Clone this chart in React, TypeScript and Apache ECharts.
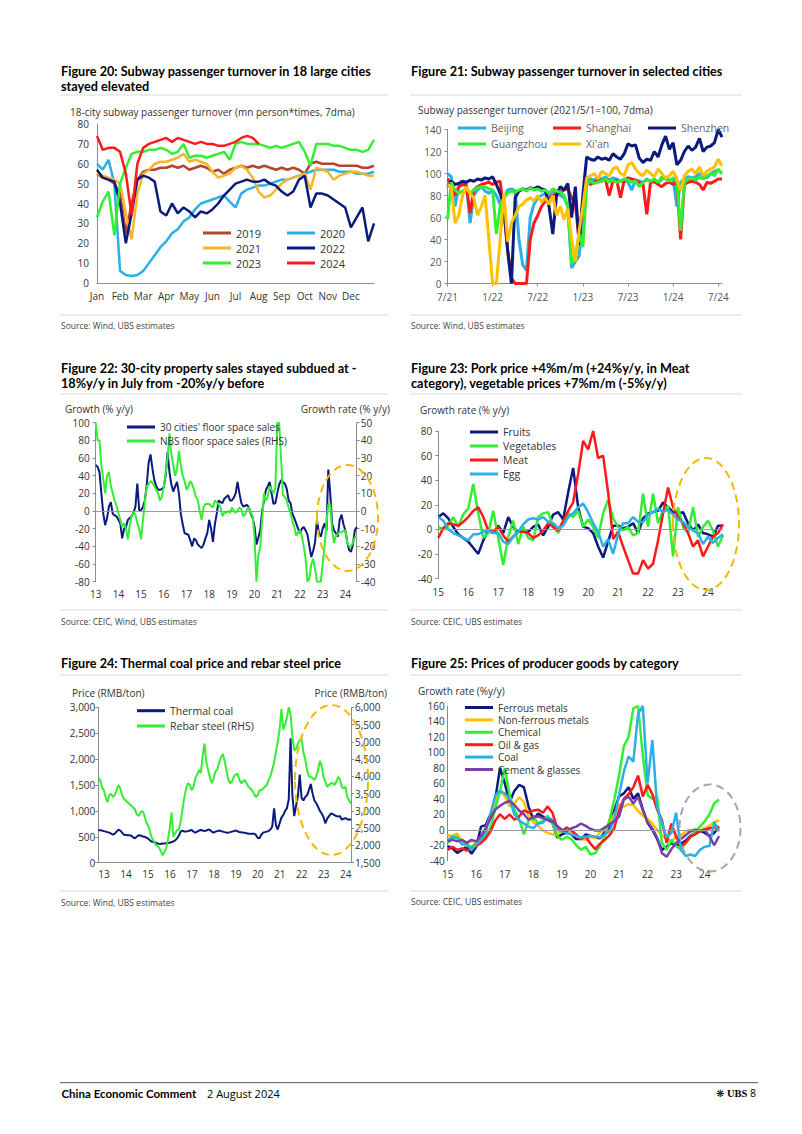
import React, { useEffect, useRef } from 'react';
import * as echarts from 'echarts';

const FONT = "'Open Sans', 'Noto Sans', sans-serif";
const BOLD = "Lato, 'Open Sans', sans-serif";

const NAVY = '#0b1a7e';
const GREEN = '#33ee33';
const RED = '#ff1a1a';
const LBLUE = '#2bb0e6';
const GOLD = '#ffc000';
const ORANGE = '#f7b52c';
const BROWN = '#b5452c';
const PURPLE = '#7b3fa8';
const AXIS = '#8c8c8c';

// ===== Figure 20: weekly points, Jan..Dec =====
const monthNames20 = ['Jan', 'Feb', 'Mar', 'Apr', 'May', 'Jun', 'Jul', 'Aug', 'Sep', 'Oct', 'Nov', 'Dec'];
const y2019 = [55, 53, 52, 50, 45, 25, 40, 52, 56, 57, 57, 58, 58, 59, 58, 59, 57, 58, 59, 58, 56, 57, 55, 57, 58, 59, 58, 59, 58, 59, 58, 57, 58, 57, 58, 57, 55, 60, 61, 60, 60, 60, 59, 59, 59, 59, 58, 58, 59];
const y2020 = [60, 57, 62, 50, 6, 4, 3.5, 4, 6, 10, 14, 18, 21, 25, 27, 31, 33, 37, 40, 41, 42, 43, 44, 41, 38, 45, 47, 48, 49, 49, 50, 51, 52, 52, 53, 54, 55, 56, 57, 57, 57, 57, 56, 56, 56, 55, 55, 55, 56];
const y2021 = [55, 54, 53, 52, 50, 35, 22, 45, 55, 57, 60, 61, 61, 62, 63, 65, 61, 62, 61, 60, 56, 53, 54, 55, 58, 59, 57, 53, 46, 43, 44, 47, 50, 52, 53, 54, 55, 47, 58, 57, 56, 52, 54, 55, 56, 56, 55, 54, 54];
const y2022 = [57, 53, 52, 51, 40, 20, 35, 52, 54, 53, 51, 36, 34, 40, 35, 38, 36, 33, 36, 35, 37, 40, 44, 47, 50, 51, 52, 51, 51, 52, 50, 49, 46, 44, 46, 52, 54, 38, 45, 45, 44, 42, 40, 38, 28, 33, 38, 21, 30];
const y2023 = [33, 41, 46, 24, 50, 58, 65, 66, 66, 67, 67, 68, 67, 65, 66, 70, 63, 64, 64, 63, 64, 65, 66, 62, 70, 71, 70, 70, 70, 69, 68, 69, 68, 69, 70, 71, 66, 59, 70, 70, 70, 69, 69, 68, 67, 67, 66, 67, 72];
const y2024 = [74, 67, 68, 68, 66, 55, 34, 60, 68, 70, 71, 72, 73, 71, 73, 72, 71, 70, 71, 70, 70, 69, 69, 70, 71, 73, 74, 73, 70];
const weeks20 = Array.from({ length: 49 }, (_, i) => (i < 48 ? `${monthNames20[Math.floor(i / 4)]} w${(i % 4) + 1}` : 'Dec end'));

// ===== Figure 21: semi-monthly points from Jul 2021 =====
const beijing = [100, 97, 70, 88, 90, 91, 55, 80, 85, 88, 84, 82, 85, 80, 72, 78, 85, 86, 84, 40, 17, 12, 60, 72, 78, 80, 82, 80, 84, 82, 80, 78, 70, 14, 20, 25, 60, 92, 95, 94, 96, 95, 97, 94, 96, 95, 93, 94, 92, 85, 94, 93, 92, 95, 93, 92, 91, 95, 96, 94, 95, 70, 92, 95, 97, 96, 97, 100, 98, 96, 100, 102, 103, 100];
const shanghai = [95, 92, 80, 88, 90, 89, 64, 85, 88, 90, 91, 92, 90, 92, 93, 65, 30, 5, 0, 0, 0, 0, 40, 55, 62, 70, 75, 78, 80, 82, 83, 85, 86, 78, 72, 40, 75, 93, 90, 92, 94, 93, 95, 80, 93, 94, 78, 94, 96, 95, 94, 92, 90, 63, 92, 93, 90, 88, 91, 92, 90, 92, 40, 90, 92, 93, 92, 90, 85, 92, 91, 93, 95, 95];
const shenzhen = [88, 93, 90, 91, 93, 92, 94, 93, 95, 94, 96, 95, 97, 90, 82, 70, 30, 0, 78, 84, 86, 85, 87, 86, 88, 86, 85, 70, 45, 80, 88, 85, 91, 60, 88, 35, 80, 115, 113, 112, 115, 113, 114, 112, 118, 115, 113, 118, 127, 125, 126, 114, 110, 113, 112, 120, 115, 126, 134, 122, 128, 108, 112, 120, 125, 121, 124, 132, 120, 124, 125, 128, 140, 133];
const guangzhou = [58, 92, 85, 82, 84, 86, 82, 85, 87, 88, 88, 86, 85, 45, 70, 78, 82, 84, 83, 85, 86, 84, 87, 85, 86, 84, 85, 82, 86, 84, 83, 80, 70, 18, 25, 45, 33, 90, 93, 91, 92, 93, 95, 92, 94, 92, 93, 95, 94, 92, 93, 88, 92, 94, 93, 95, 92, 97, 95, 93, 96, 94, 48, 92, 95, 96, 94, 97, 95, 98, 100, 98, 104, 100];
const xian = [90, 88, 55, 62, 80, 88, 82, 78, 62, 70, 80, 40, 0, 0, 40, 82, 38, 55, 62, 70, 72, 76, 78, 75, 80, 74, 78, 72, 80, 62, 70, 58, 68, 40, 20, 48, 70, 96, 98, 100, 95, 102, 100, 98, 104, 106, 100, 98, 108, 110, 104, 100, 98, 103, 100, 97, 104, 100, 96, 98, 102, 95, 85, 98, 102, 104, 100, 106, 98, 102, 104, 106, 113, 107];
const halfMonths21 = Array.from({ length: 74 }, (_, i) => {
  const m = 6 + Math.floor(i / 2);
  return `${(m % 12) + 1}/${21 + Math.floor(m / 12)} ${i % 2 ? 'b' : 'a'}`;
});

// ===== Figure 22: monthly Jan 2013 - Jul 2024 =====
const cities30 = [
  52, 50, 44, 20, -3, -16, -8, 5, 10, -3, -5, -6,
  -10, -14, -31, -20, -18, -10, -8, -6, -2, 5, 31, 1,
  1, 5, 12, 30, 55, 64, 48, 35, 28, 24, 24, 25,
  27, 40, 67, 44, 30, 22, 28, 33, 20, -3, -15, -25,
  -26, -27, -33, -40, -31, -33, -38, -40, -42, -38, -31, -25,
  -10, -20, -35, -15, -3, 12, 10, 9, 14, 16, 18, 12,
  12, 15, 20, 33, 20, 9, 5, 6, 7, 4, -3, -8,
  -18, -38, -30, -22, 0, 12, 24, 28, 33, 20, 8, 9,
  20, 30, 35, 33, 31, 25, 12, 9, -3, -8, -14, -20,
  -25, -20, -18, -22, -27, -40, -52, -45, -35, -10, -25, -29,
  -20, -14, -22, 47, 20, -14, -22, -25, -29, -10, -4, -15,
  -22, -35, -44, -46, -38, -22, -18,
];
const nbsSales = [
  50, 40, 40, 26, 18, 10, 20, 22, 14, 10, 6, 3,
  -1, -5, -9, -7, -10, -16, -8, -3, -1, -2, -7, -10,
  -16, -5, 5, 14, 15, 17, 16, 14, 12, 10, 6, 8,
  14, 22, 30, 44, 32, 26, 20, 24, 34, 26, 20, 17,
  12, 14, 17, 15, 12, 8, 6, 0, -5, 2, 4, 4,
  4, 3, 2, 6, 5, 4, 2, -3, -1, -1, 0, -1,
  2, 0, -1, 0, 2, 1, -3, -2, 1, 2, -1, -3,
  -15, -40, -25, -20, -5, 10, 6, 8, 14, 12, 10, 13,
  50, 50, 30, 9, 8, 6, 2, -1, -6, -9, -14, -12,
  -11, -14, -20, -27, -40, -38, -30, -27, -33, -40, -40, -40,
  -30, -20, -7, 4, 4, -11, -18, -14, -13, -12, -12, -11,
  -11, -18, -20, -20, -18, -15, -14,
];
const monthly1324 = Array.from({ length: 139 }, (_, i) => `${13 + Math.floor(i / 12)}-${String((i % 12) + 1).padStart(2, '0')}`);

// ===== Figure 23: bi-monthly Jan 2015 - Jul 2024 =====
const fruits = [10, 13, 9, 2, -4, -7, -10, -15, -20, -9, -1, -3, 3, -3, 10, 2, -2, -2, -2, 2, 4, -5, 2, 12, 14, 8, 30, 50, 18, 2, 1, -3, -14, -23, -10, 3, 3, 1, 2, 5, -3, 9, 13, 14, 15, 22, 18, 14, 13, 14, 5, -1, 4, -3, -4, -6, 3, 3];
const vegetables = [2, 0, 3, 10, 2, 12, 17, 37, 13, -7, -3, 15, -7, -29, -6, 7, -12, 2, -7, -9, 10, 13, 14, 2, -3, 5, 13, 10, 15, 2, 8, 2, -7, 13, 24, 9, 2, -1, 2, -5, -3, 29, 2, 29, 5, 15, 19, -22, 18, 2, -3, 18, -6, 2, 7, -1, -14, -5];
const meat = [-7, 1, 5, 4, 3, 6, 10, 15, 18, 10, -1, -2, 2, -5, -10, -6, -2, -2, -3, -7, -5, -1, 5, 2, -1, 7, 15, 22, 45, 72, 65, 80, 58, 60, 30, -8, -2, -14, -25, -36, -36, -25, -32, -28, -9, 13, 34, 18, 10, 5, -3, -14, -9, -22, -14, -6, -3, 4];
const egg = [10, 7, 0, -3, -5, -7, -9, -4, -4, -2, -1, -3, -3, -10, -12, -6, -2, 4, 8, 9, 8, 10, 6, 5, 1, 3, 10, 13, 18, 21, 14, 5, -2, -14, -8, -20, -4, 5, 5, 10, 6, 6, 12, 14, 17, 14, 16, 12, 8, 6, 2, -1, -3, -12, -6, -11, -7, -4];
const bimonthly1524 = Array.from({ length: 58 }, (_, i) => {
  const m = i * 2;
  return `${15 + Math.floor(m / 12)}-${String((m % 12) + 1).padStart(2, '0')}`;
});

// ===== Figure 24: monthly Jan 2013 - Jul 2024 =====
const thermalCoal = [
  630, 625, 620, 610, 600, 590, 580, 560, 540, 560, 600, 640,
  620, 580, 540, 535, 530, 530, 520, 490, 470, 500, 530, 525,
  510, 500, 490, 470, 440, 410, 400, 390, 375, 365, 360, 370,
  370, 375, 380, 385, 400, 410, 430, 470, 520, 600, 620, 600,
  600, 610, 620, 630, 600, 580, 600, 620, 630, 620, 610, 620,
  640, 630, 600, 580, 600, 610, 620, 610, 600, 590, 580, 580,
  590, 600, 610, 620, 610, 590, 590, 580, 580, 570, 560, 560,
  560, 560, 540, 480, 470, 540, 580, 590, 600, 610, 640, 700,
  1050, 720, 640, 760, 870, 920, 1000, 1050, 1220, 2400, 1300, 900,
  1100, 1280, 1700, 1250, 1200, 1270, 1300, 1400, 1520, 1340, 1200, 1150,
  1080, 1000, 950, 880, 760, 850, 900, 950, 940, 920, 900, 890,
  900, 830, 850, 860, 840, 830, 840,
];
const rebarSteel = [
  3950, 3900, 3700, 3600, 3400, 3250, 3450, 3500, 3400, 3450, 3600, 3750,
  3650, 3450, 3350, 3300, 3250, 3200, 3150, 3100, 3050, 2900, 2850, 2950,
  3000, 2900, 2700, 2600, 2450, 2250, 2150, 2050, 2000, 1950, 1850, 1720,
  1800, 1900, 2150, 2500, 2950, 2250, 2350, 2450, 2450, 2700, 3050, 3400,
  3650, 3800, 3750, 3600, 3700, 3950, 4050, 4180, 4100, 4600, 4950, 4400,
  4180, 3950, 3800, 3950, 4150, 4200, 4400, 4550, 4650, 4450, 4180, 3900,
  3800, 3850, 3990, 4050, 4080, 3900, 3800, 3850, 3890, 3800, 3700, 3650,
  3600, 3500, 3400, 3450, 3600, 3600, 3650, 3700, 3750, 3890, 4000, 4200,
  4400, 4700, 5000, 5350, 5950, 5350, 5500, 5700, 6000, 5800, 5150, 4750,
  4800, 4950, 5050, 5100, 4700, 4500, 4180, 4000, 3990, 3950, 3890, 4000,
  4180, 4450, 4300, 3990, 3850, 3700, 3750, 3800, 3800, 3750, 3850, 3990,
  3900, 3700, 3650, 3700, 3400, 3300, 3200,
];

// ===== Figure 25: bi-monthly Jan 2015 - Jul 2024 =====
const ferrous = [-21, -24, -30, -26, -22, -31, -22, 4, 6, 20, 40, 80, 60, 36, 50, 58, 55, 30, 13, 21, 17, 13, 9, -10, -6, -4, -6, -12, -12, -6, -8, -10, -11, -3, 4, 25, 43, 47, 55, 40, 47, 26, 9, 0, -12, -26, -22, -17, -21, -18, -14, -8, -3, -1, -4, -8, -4, 4];
const nonFerrous = [-7, -8, -5, -14, -17, -15, -15, -10, 2, 18, 38, 50, 44, 30, 34, 42, 36, 18, 10, 5, -1, -4, -6, -6, -2, -3, -4, -7, -12, -13, -9, -11, -3, 1, 8, 20, 33, 30, 33, 32, 24, 18, 14, 8, 0, -8, -11, -15, -9, -7, -2, 0, -1, 0, 2, 5, 10, 12];
const chemical = [-17, -11, -9, -17, -21, -22, -17, -15, -9, 3, 28, 50, 80, 45, 26, 14, -6, 12, 17, 8, 12, 18, 9, -8, -13, -9, -12, -20, -26, -22, -32, -30, -21, -8, 13, 39, 70, 108, 120, 157, 160, 95, 45, 40, 43, -17, -26, -13, -21, -26, -17, -9, -2, 4, 11, 20, 34, 39];
const oilGas = [-26, -22, -26, -24, -27, -24, -21, -17, -11, -2, 12, 20, 14, 20, 13, 17, 25, 22, 25, 26, 22, 30, 22, 2, -2, 3, -1, -6, -12, -9, -18, -25, -18, -13, -7, 2, 25, 40, 46, 55, 70, 43, 58, 46, 26, 13, -17, 8, -9, -21, -17, -9, -6, -2, 0, 2, 3, 4];
const coalPPI = [-13, -9, -11, -19, -17, -26, -19, -13, -3, 20, 45, 50, 47, 40, 20, 12, 8, 4, 2, 8, 9, 16, 13, 0, -2, -4, -6, -8, -10, -9, -8, -9, -10, -6, -2, 13, 45, 75, 95, 88, 150, 160, 60, 116, 30, 10, -10, -4, 22, -26, -34, -32, -34, -26, -22, -21, 10, -2];
const cementGlass = [-15, -13, -15, -13, -17, -13, -15, -8, 2, 15, 26, 31, 35, 37, 32, 25, 20, 13, 17, 17, 15, 13, 11, 5, 0, -2, 2, 4, 8, 5, 1, -1, -1, 3, 7, 11, 17, 39, 43, 34, 43, 25, 10, 2, -10, -30, -35, -25, -17, -12, -7, -2, 0, -2, 0, -9, -20, -8];

// ===== helpers =====
const line = (name: string, data: number[], color: string, xi: number, yi: number, width = 2) => ({
  name, type: 'line', data, xAxisIndex: xi, yAxisIndex: yi, symbol: 'none', showSymbol: false,
  color, lineStyle: { color, width }, itemStyle: { color }, silent: true, emphasis: { disabled: true },
});

const zeroLine = {
  silent: true, symbol: ['none', 'none'], label: { show: false },
  lineStyle: { color: '#9a9a9a', width: 1, type: 'solid' }, data: [{ yAxis: 0 }],
};

const catAxis = (gridIndex: number, data: string[], show: (i: number) => boolean, fmt: (v: string) => string, o: any = {}) => ({
  type: 'category', gridIndex, data, boundaryGap: false,
  axisLine: { show: o.line !== false, lineStyle: { color: AXIS } },
  axisTick: { show: !!o.tick, length: 3, interval: (i: number) => show(i), lineStyle: { color: AXIS } },
  axisLabel: {
    interval: (i: number) => show(i), formatter: (v: string) => fmt(v), fontSize: 10,
    color: o.color || '#333', fontFamily: FONT, margin: o.margin ?? 7, align: o.align || 'center',
  },
  splitLine: { show: false },
});

const valAxis = (gridIndex: number, min: number, max: number, interval: number, o: any = {}) => ({
  type: 'value', gridIndex, min, max, interval, position: o.position || 'left',
  splitLine: { show: false },
  axisLine: { show: true, lineStyle: { color: AXIS } },
  axisTick: { show: o.tick !== false, length: 3, lineStyle: { color: AXIS } },
  axisLabel: {
    fontSize: 10, color: o.color || '#333', fontFamily: FONT, margin: o.margin ?? 5,
    formatter: o.formatter,
  },
});

const legendCol = (left: number, top: number, data: string[], gap: number, lh = 14, fs = 10, color = '#333') => ({
  orient: 'vertical', left, top, padding: 0, itemGap: gap, itemWidth: 28, itemHeight: 3, icon: 'rect',
  selectedMode: false, data, textStyle: { fontSize: fs, color, fontFamily: FONT, lineHeight: lh },
});

const txt = (x: number, y: number, text: string, font: string, fill = '#000', align = 'left') => ({
  type: 'text', x, y, silent: true,
  style: { text, font, fill, align, textAlign: align, verticalAlign: 'middle', textVerticalAlign: 'middle' },
});
const hline = (x1: number, x2: number, y: number, stroke = '#d9d9d9', w = 1) => ({
  type: 'line', silent: true, shape: { x1, y1: y, x2, y2: y }, style: { stroke, lineWidth: w },
});
const ellipse = (cx: number, cy: number, rx: number, ry: number, stroke: string) => ({
  type: 'ellipse', silent: true, z: 100, shape: { cx, cy, rx, ry },
  style: { fill: 'none', stroke, lineWidth: 2, lineDash: [8, 5] },
});

const TITLE = `bold 12.7px ${BOLD}`;
const SUB = `10px ${FONT}`;
const SRC = `8.5px ${FONT}`;

const yearLabel = (v: string) => v.slice(0, 2);
const fmtThousands = (v: number) => v.toLocaleString('en-US');

const option: any = {
  animation: false,
  textStyle: { fontFamily: FONT },
  grid: [
    { left: 97, top: 124, width: 277, height: 159 },
    { left: 447.5, top: 129.5, width: 274.5, height: 154 },
    { left: 95.7, top: 422.7, width: 261, height: 159 },
    { left: 438.3, top: 431, width: 284.7, height: 147.5 },
    { left: 98.3, top: 707.3, width: 252.7, height: 155.4 },
    { left: 447.7, top: 706, width: 271.3, height: 154.7 },
  ],
  xAxis: [
    catAxis(0, weeks20, (i) => i % 4 === 0 && i < 48, (v) => v.split(' ')[0], { margin: 8 }),
    catAxis(1, halfMonths21, (i) => i % 12 === 0, (v) => v.split(' ')[0], { tick: true, color: '#555', margin: 8 }),
    catAxis(2, monthly1324, (i) => i % 12 === 0, yearLabel, { line: false, margin: 7 }),
    catAxis(3, bimonthly1524, (i) => i % 6 === 0, yearLabel, { line: false, margin: 8 }),
    catAxis(4, monthly1324, (i) => i % 12 === 0, yearLabel, { align: 'left', margin: 6 }),
    catAxis(5, bimonthly1524, (i) => i % 6 === 0, yearLabel, { line: false, margin: 8 }),
  ],
  yAxis: [
    valAxis(0, 0, 80, 10, { tick: false, margin: 8 }),
    valAxis(1, 0, 140, 20, { color: '#555', margin: 6 }),
    valAxis(2, -80, 100, 20, { margin: 6 }),
    valAxis(2, -40, 50, 10, { position: 'right', margin: 4 }),
    valAxis(3, -40, 80, 20, { margin: 6 }),
    valAxis(4, 0, 3000, 500, { formatter: fmtThousands, margin: 3 }),
    valAxis(4, 1500, 6000, 500, { position: 'right', formatter: fmtThousands, margin: 4 }),
    valAxis(5, -40, 160, 20, { tick: false, margin: 3 }),
  ],
  legend: [
    legendCol(203, 226, ['2019', '2021', '2023'], 1, 14, 11),
    legendCol(287, 226, ['2020', '2022', '2024'], 1, 14, 11),
    legendCol(458, 121, ['Beijing', 'Guangzhou'], 2, 14, 10.5, '#666'),
    legendCol(553, 121, ['Shanghai', "Xi'an"], 2, 14, 10.5, '#666'),
    legendCol(648, 121, ['Shenzhen'], 2, 14, 10.5, '#666'),
    legendCol(127, 420, ["30 cities' floor space sales", 'NBS floor space sales (RHS)'], 0, 14, 10),
    legendCol(470, 425, ['Fruits', 'Vegetables', 'Meat', 'Egg'], 0, 14, 10.5),
    legendCol(137, 703.7, ['Thermal coal', 'Rebar steel (RHS)'], 1.3, 14, 10.5),
    legendCol(465, 701.5, ['Ferrous metals', 'Non-ferrous metals', 'Chemical', 'Oil & gas', 'Coal', 'Cement & glasses'], 0.4, 12, 10),
  ],
  series: [
    line('2019', y2019, BROWN, 0, 0, 2.5),
    line('2020', y2020, LBLUE, 0, 0, 2.5),
    line('2021', y2021, ORANGE, 0, 0, 2.5),
    line('2022', y2022, NAVY, 0, 0, 2.5),
    line('2023', y2023, GREEN, 0, 0, 2.5),
    line('2024', y2024, RED, 0, 0, 2.5),

    line('Beijing', beijing, LBLUE, 1, 1, 3),
    line('Shanghai', shanghai, RED, 1, 1, 3),
    line('Shenzhen', shenzhen, NAVY, 1, 1, 3),
    line('Guangzhou', guangzhou, GREEN, 1, 1, 3),
    line("Xi'an", xian, GOLD, 1, 1, 3),

    { ...line("30 cities' floor space sales", cities30, NAVY, 2, 2, 2), markLine: zeroLine },
    line('NBS floor space sales (RHS)', nbsSales, GREEN, 2, 3, 2),

    { ...line('Fruits', fruits, NAVY, 3, 4, 2.5), markLine: zeroLine },
    line('Vegetables', vegetables, GREEN, 3, 4, 2.5),
    line('Meat', meat, RED, 3, 4, 2.5),
    line('Egg', egg, LBLUE, 3, 4, 2.5),

    line('Thermal coal', thermalCoal, NAVY, 4, 5, 2),
    line('Rebar steel (RHS)', rebarSteel, GREEN, 4, 6, 2),

    { ...line('Ferrous metals', ferrous, NAVY, 5, 7, 2.5), markLine: zeroLine },
    line('Non-ferrous metals', nonFerrous, GOLD, 5, 7, 2.5),
    line('Chemical', chemical, GREEN, 5, 7, 2.5),
    line('Oil & gas', oilGas, RED, 5, 7, 2.5),
    line('Coal', coalPPI, LBLUE, 5, 7, 2.5),
    line('Cement & glasses', cementGlass, PURPLE, 5, 7, 2.5),
  ],
  graphic: {
    elements: [
      // titles
      txt(61, 70.5, 'Figure 20: Subway passenger turnover in 18 large cities', TITLE),
      txt(61, 85.5, 'stayed elevated', TITLE),
      txt(411, 70.5, 'Figure 21: Subway passenger turnover in selected cities', TITLE),
      txt(61, 367.5, 'Figure 22: 30-city property sales stayed subdued at -', TITLE),
      txt(61, 382.5, '18%y/y in July from -20%y/y before', TITLE),
      txt(411, 367.5, 'Figure 23: Pork price +4%m/m (+24%y/y, in Meat', TITLE),
      txt(411, 382.5, 'category), vegetable prices +7%m/m (-5%y/y)', TITLE),
      txt(61, 663, 'Figure 24: Thermal coal price and rebar steel price', TITLE),
      txt(411, 663, 'Figure 25: Prices of producer goods by category', TITLE),
      // separators
      hline(60, 388, 95), hline(410, 742, 95),
      hline(60, 388, 315), hline(410, 742, 315),
      hline(60, 388, 394), hline(410, 742, 394),
      hline(60, 388, 610), hline(410, 742, 610),
      hline(60, 388, 675), hline(410, 742, 675),
      hline(60, 388, 891), hline(410, 742, 891),
      // axis titles
      txt(70, 111.5, '18-city subway passenger turnover (mn person*times, 7dma)', SUB, '#333'),
      txt(418, 110, 'Subway passenger turnover (2021/5/1=100, 7dma)', SUB, '#333'),
      txt(65, 409, 'Growth (% y/y)', SUB, '#333'),
      txt(390, 409, 'Growth rate (% y/y)', SUB, '#333', 'right'),
      txt(420, 410, 'Growth rate (% y/y)', SUB, '#333'),
      txt(72, 692.5, 'Price (RMB/ton)', SUB, '#333'),
      txt(387, 692.5, 'Price (RMB/ton)', SUB, '#333', 'right'),
      txt(418, 690.5, 'Growth rate (%y/y)', SUB, '#333'),
      // sources
      txt(61, 325.5, 'Source: Wind, UBS estimates', SRC, '#444'),
      txt(411, 325.5, 'Source: Wind, UBS estimates', SRC, '#444'),
      txt(61, 621, 'Source: CEIC, Wind, UBS estimates', SRC, '#444'),
      txt(411, 621, 'Source: CEIC, UBS estimates', SRC, '#444'),
      txt(61, 902.5, 'Source: Wind, UBS estimates', SRC, '#444'),
      txt(411, 901, 'Source: CEIC, UBS estimates', SRC, '#444'),
      // highlight ellipses
      ellipse(347.5, 518, 30.5, 53, '#f5b800'),
      ellipse(706, 524, 33, 66, '#f5b800'),
      ellipse(331.5, 780, 36.5, 75, '#f5b800'),
      ellipse(710, 828, 30.5, 43.5, '#a6a6a6'),
      // footer
      hline(60, 758, 1082.7, '#555'),
      txt(61.5, 1093.3, 'China Economic Comment', `bold 11.5px ${BOLD}`),
      txt(207, 1093.3, '2 August 2024', `11px ${FONT}`),
      txt(716, 1093.3, '\u274B', `10px 'DejaVu Sans'`),
      txt(727, 1093.3, 'UBS', `bold 10.5px 'Liberation Serif'`),
      txt(750, 1093.3, '8', `10.5px ${FONT}`),
    ],
  },
};

export default function App() {
  const ref = useRef<HTMLDivElement>(null);
  useEffect(() => {
    const chart = echarts.init(ref.current as HTMLDivElement, null, { renderer: 'svg' });
    chart.setOption(option);
    return () => chart.dispose();
  }, []);
  return (
    <div
      ref={ref}
      style={{ position: 'absolute', left: 0, top: 0, width: 802, height: 1134, background: '#fff' }}
    />
  );
}
